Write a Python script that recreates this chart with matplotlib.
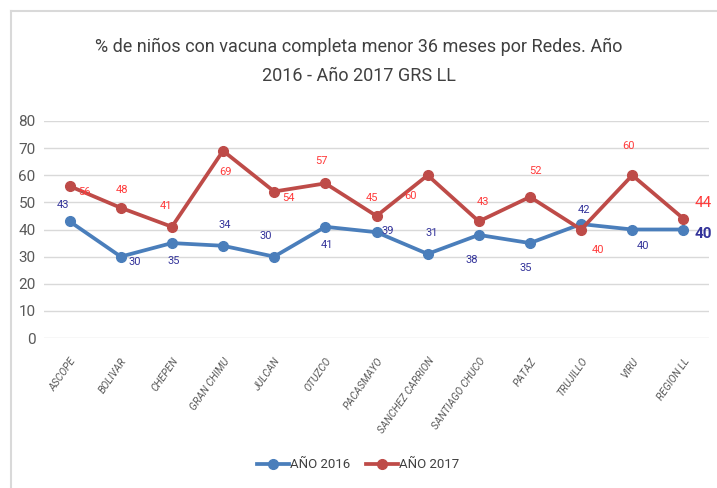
import matplotlib
matplotlib.use("Agg")
from matplotlib import pyplot as plt
from matplotlib.lines import Line2D

redes = ["ASCOPE", "BOLIVAR", "CHEPEN", "GRAN CHIMU", "JULCAN", "OTUZCO",
         "PACASMAYO", "SANCHEZ CARRION", "SANTIAGO CHUCO", "PATAZ",
         "TRUJILLO", "VIRU", "REGION LL"]
anio_2016 = [43, 30, 35, 34, 30, 41, 39, 31, 38, 35, 42, 40, 40]
anio_2017 = [56, 48, 41, 69, 54, 57, 45, 60, 43, 52, 40, 60, 44]

# label offsets in points (dx, dy) -- just placement, not data
off_2016 = [(-5, 12), (10, -4), (1, -13), (1, 15), (-6, 15), (1, -13),
            (8, 1), (3, 15), (-5, -18), (-3, -18), (2, 10), (8, -12), (14, -3)]
off_2017 = [(11, -4), (1, 13), (-4, 15), (2, -15), (10, -5), (-3, 16),
            (-3, 13), (-12, -15), (3, 14), (4, 19), (12, -15), (-3, 21), (14, 11)]

plt.rcParams['font.family'] = ['Roboto', 'DejaVu Sans']

fig = plt.figure(figsize=(7.17, 4.88), dpi=100)
ax = fig.add_axes([44 / 717, 1 - 338 / 488, 665 / 717, 217 / 488])

x = list(range(len(redes)))
ax.plot(x, anio_2016, color='#4A7EBB', linewidth=2.7, marker='o', markersize=7,
        label='AÑO 2016', solid_joinstyle='round')
ax.plot(x, anio_2017, color='#BE4B48', linewidth=2.7, marker='o', markersize=7,
        label='AÑO 2017', solid_joinstyle='round')

for i in x:
    big = i == len(redes) - 1
    ax.annotate(str(anio_2016[i]), (i, anio_2016[i]), textcoords='offset points',
                xytext=off_2016[i], ha='center', va='center',
                color='#33339A', fontsize=11 if big else 8,
                fontweight='bold' if big else 'normal')
    ax.annotate(str(anio_2017[i]), (i, anio_2017[i]), textcoords='offset points',
                xytext=off_2017[i], ha='center', va='center',
                color='#FF3B3B', fontsize=11 if big else 8)

ax.set_xlim(-0.5, len(redes) - 0.5)
ax.set_ylim(0, 80)
ax.set_yticks(range(0, 81, 10))
ax.grid(axis='y', color='#D9D9D9', linewidth=1)
ax.set_axisbelow(True)
for s in ax.spines.values():
    s.set_visible(False)
ax.tick_params(length=0)
ax.tick_params(axis='y', labelsize=11, labelcolor='#595959', pad=6)
ax.set_xticks(x)
ax.set_xticklabels(redes, rotation=55, ha='right', rotation_mode='anchor',
                   fontsize=7.5, color='#595959', style='italic')
ax.tick_params(axis='x', pad=13)

fig.suptitle('% de niños con vacuna completa menor 36 meses por Redes. Año\n2016 - Año 2017 GRS LL',
             y=1 - 38 / 488, fontsize=13, color='#404040', linespacing=1.8)

fig.legend(loc='center', bbox_to_anchor=(0.5, 1 - 465 / 488), ncol=2,
           frameon=False, fontsize=9.5, handlelength=2.4, columnspacing=1.2,
           handletextpad=0.1, labelcolor='#404040')

fig.add_artist(Line2D([11 / 717, 11 / 717], [0, 1 - 11 / 488], color='#D9D9D9',
                      linewidth=1.5, transform=fig.transFigure))
fig.add_artist(Line2D([11 / 717, 1], [1 - 11 / 488, 1 - 11 / 488], color='#D9D9D9',
                      linewidth=1.5, transform=fig.transFigure))

fig.savefig('out.png', dpi=100)
